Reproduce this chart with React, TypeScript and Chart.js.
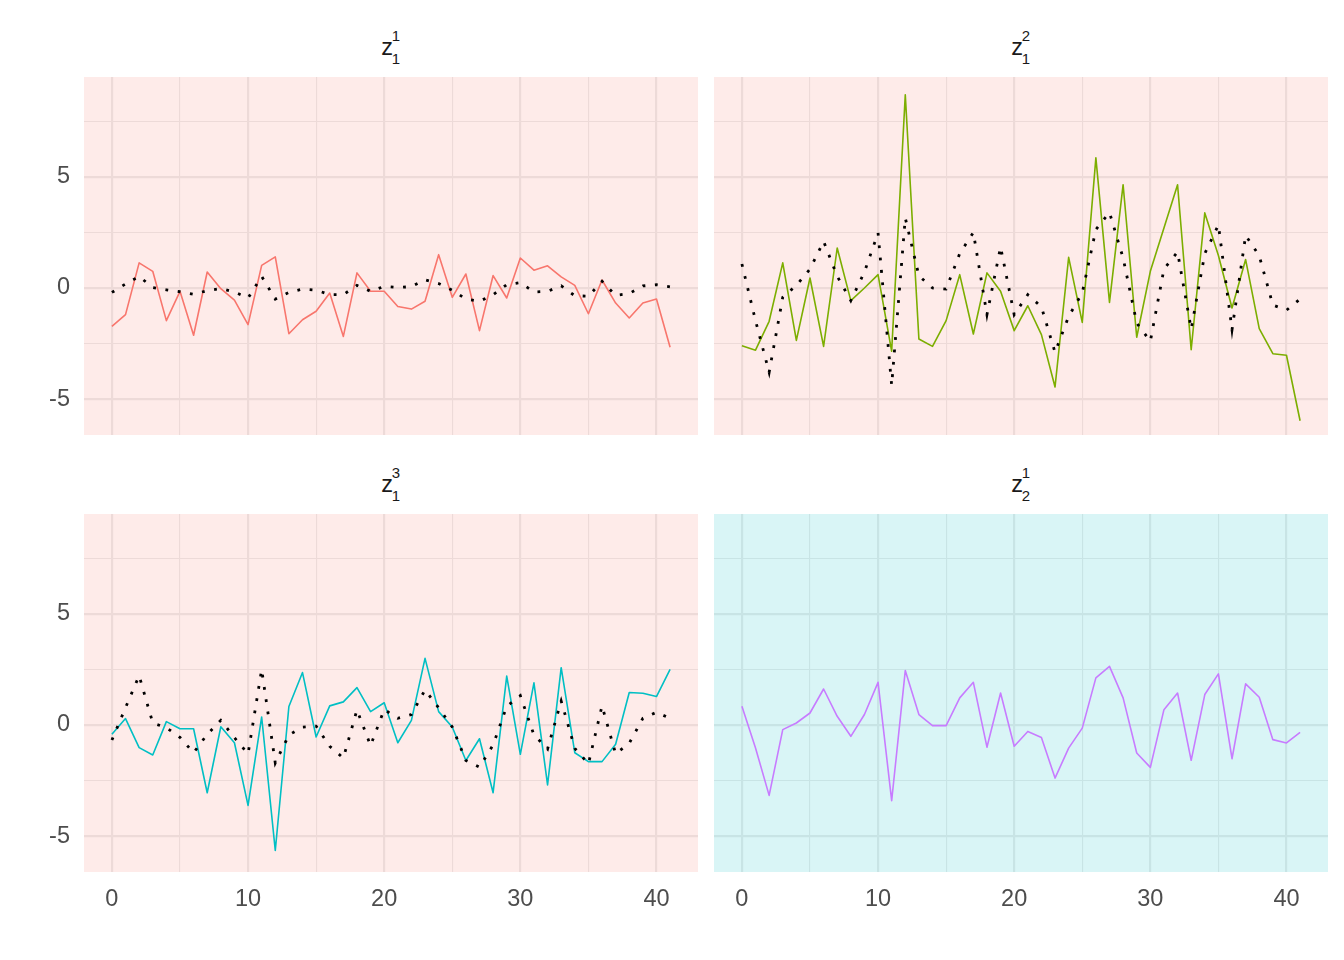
import React, { useEffect, useRef } from "react";
import { Chart, registerables } from "chart.js";

Chart.register(...registerables);

// ---- data ----
const steps = [0, 1, 2, 3, 4, 5, 6, 7, 8, 9, 10, 11, 12, 13, 14, 15, 16, 17, 18, 19, 20,
  21, 22, 23, 24, 25, 26, 27, 28, 29, 30, 31, 32, 33, 34, 35, 36, 37, 38, 39, 40, 41];

const z11Series = [-1.73, -1.2, 1.13, 0.75, -1.47, -0.15, -2.13, 0.72, -0.03, -0.55, -1.65, 1.02, 1.4, -2.06,
  -1.43, -1.05, -0.23, -2.18, 0.68, -0.15, -0.15, -0.83, -0.95, -0.6, 1.5, -0.42, 0.63, -1.92, 0.56, -0.45,
  1.35, 0.8, 1.0, 0.5, 0.12, -1.16, 0.36, -0.68, -1.35, -0.68, -0.5, -2.67];
const z11Reference = [-0.2, 0.18, 0.52, 0.02, -0.08, -0.17, -0.28, -0.12, -0.02, -0.18, -0.45, 0.52, -0.5, -0.2,
  -0.05, -0.1, -0.3, -0.3, 0.12, -0.15, 0.07, 0.02, 0.06, 0.37, 0.2, -0.1, -0.5, -0.6, -0.3, 0.15, 0.24, -0.18,
  -0.15, 0.1, -0.35, -0.37, 0.3, -0.33, -0.25, 0.09, 0.15, 0.05];

const z12Series = [-2.6, -2.8, -1.5, 1.13, -2.36, 0.45, -2.63, 1.8, -0.57, 0.0, 0.6, -2.85, 8.7, -2.3, -2.63,
  -1.47, 0.6, -2.07, 0.68, -0.15, -1.92, -0.8, -2.1, -4.46, 1.38, -1.55, 5.86, -0.65, 4.65, -2.22, 0.75, 2.7,
  4.65, -2.78, 3.38, 1.46, -0.9, 1.28, -1.83, -2.96, -3.03, -5.98];
const z12Reference = [1.08, -1.47, -3.8, -0.42, 0.12, 0.85, 2.1, 0.53, -0.57, 0.72, 2.48, -4.38, 3.15, 0.55,
  0.0, -0.05, 1.55, 2.5, -1.2, 1.85, -1.2, -0.3, -0.85, -2.9, -1.28, -0.22, 2.63, 3.4, 1.35, -1.58, -2.4, 0.85,
  1.62, -1.85, 1.55, 2.84, -1.88, 2.37, 1.45, -0.77, -1.0, -0.5];

const z13Series = [-0.42, 0.29, -1.02, -1.35, 0.15, -0.17, -0.17, -3.05, -0.08, -0.8, -3.62, 0.36, -5.65, 0.83,
  2.36, -0.54, 0.86, 1.04, 1.68, 0.6, 1.0, -0.8, 0.21, 3.0, 0.6, -0.09, -1.6, -0.62, -3.05, 2.2, -1.32, 1.9,
  -2.7, 2.58, -1.25, -1.65, -1.65, -0.87, 1.46, 1.43, 1.28, 2.5];
const z13Reference = [-0.68, 0.78, 2.22, 0.09, -0.12, -0.56, -1.25, -0.42, 0.21, -0.57, -1.3, 2.5, -1.71, -0.45,
  -0.1, -0.05, -0.96, -1.49, 0.68, -0.93, 0.7, 0.3, 0.47, 1.58, 0.77, -0.09, -1.6, -1.9, -0.9, 0.84, 1.32, -0.45,
  -1.08, 1.08, -1.05, -1.75, 0.86, -1.3, -0.82, 0.3, 0.57, 0.3];

const z21Series = [0.84, -1.04, -3.17, -0.21, 0.09, 0.54, 1.62, 0.39, -0.51, 0.47, 1.92, -3.41, 2.45, 0.47,
  -0.03, -0.03, 1.22, 1.92, -1.0, 1.44, -0.96, -0.29, -0.56, -2.39, -1.04, -0.14, 2.12, 2.64, 1.22, -1.26,
  -1.91, 0.69, 1.44, -1.59, 1.37, 2.3, -1.52, 1.85, 1.25, -0.66, -0.81, -0.33];

const xGridValues = [0, 5, 10, 15, 20, 25, 30, 35, 40];
const xTickLabels = [0, 10, 20, 30, 40];
const yGridValues = [-5, -2.5, 0, 2.5, 5, 7.5];
const yTickLabels = [-5, 0, 5];

// ---- styling ----
const FONT = '"Liberation Sans", Arial, Helvetica, sans-serif';
const X_MIN = -2.05;
const X_MAX = 43.05;
const Y_MIN = -6.62;
const Y_MAX = 9.5;
const Y_AXIS_W = 84;
const X_AXIS_H = 88;
const PANEL_W = 614;
const PANEL_H = 358;

const panelFill = {
  id: "panelFill",
  beforeDatasetsDraw(chart: any, _args: any, opts: any) {
    const { ctx, chartArea: a } = chart;
    ctx.save();
    ctx.fillStyle = opts.color;
    ctx.fillRect(a.left, a.top, a.right - a.left, a.bottom - a.top);
    ctx.restore();
  },
};

type PanelProps = {
  left: number;
  top: number;
  showX: boolean;
  showY: boolean;
  fill: string;
  color: string;
  series: number[];
  reference?: number[];
};

function Panel(p: PanelProps) {
  const ref = useRef<HTMLCanvasElement>(null);
  const w = PANEL_W + (p.showY ? Y_AXIS_W : 0);
  const h = PANEL_H + (p.showX ? X_AXIS_H : 0);

  useEffect(() => {
    const canvas = ref.current;
    if (!canvas) return;
    const toPts = (arr: number[]) => steps.map((x, i) => ({ x, y: arr[i] }));
    const datasets: any[] = [];
    if (p.reference) {
      datasets.push({
        data: toPts(p.reference),
        borderColor: "#000000",
        borderWidth: 2.8,
        borderDash: [2.8, 9.6],
        borderCapStyle: "butt",
        pointRadius: 0,
        tension: 0,
        fill: false,
      });
    }
    datasets.push({
      data: toPts(p.series),
      borderColor: p.color,
      borderWidth: 1.6,
      borderJoinStyle: "round",
      pointRadius: 0,
      tension: 0,
      fill: false,
    });

    const gridOpts = (majors: number[]) => ({
      color: "#EBEBEB",
      lineWidth: (ctx: any) => (majors.includes(ctx.tick?.value) ? 2.2 : 1.1),
      drawTicks: false,
    });

    const chart = new Chart(canvas, {
      type: "line",
      data: { datasets },
      plugins: [panelFill as any],
      options: {
        animation: false,
        responsive: false,
        maintainAspectRatio: false,
        events: [],
        layout: { padding: 0 },
        plugins: {
          legend: { display: false },
          tooltip: { enabled: false },
          panelFill: { color: p.fill },
        } as any,
        scales: {
          x: {
            type: "linear",
            min: X_MIN,
            max: X_MAX,
            border: { display: false },
            grid: gridOpts(xTickLabels) as any,
            afterBuildTicks: (s: any) => {
              s.ticks = xGridValues.map((v) => ({ value: v }));
            },
            afterFit: (s: any) => {
              s.height = p.showX ? X_AXIS_H : 0;
              s.paddingLeft = 0;
              s.paddingRight = 0;
              s.paddingTop = 0;
              s.paddingBottom = 0;
            },
            ticks: {
              display: p.showX,
              autoSkip: false,
              maxRotation: 0,
              padding: 13,
              color: "#4D4D4D",
              font: { family: FONT, size: 23.5 },
              callback: (v: any) => (xTickLabels.includes(Number(v)) ? String(v) : ""),
            },
          },
          y: {
            type: "linear",
            min: Y_MIN,
            max: Y_MAX,
            border: { display: false },
            grid: gridOpts(yTickLabels) as any,
            afterBuildTicks: (s: any) => {
              s.ticks = yGridValues.map((v) => ({ value: v }));
            },
            afterFit: (s: any) => {
              s.width = p.showY ? Y_AXIS_W : 0;
              s.paddingLeft = 0;
              s.paddingRight = 0;
              s.paddingTop = 0;
              s.paddingBottom = 0;
            },
            ticks: {
              display: p.showY,
              autoSkip: false,
              padding: 14,
              color: "#4D4D4D",
              font: { family: FONT, size: 23.5 },
              callback: (v: any) => (yTickLabels.includes(Number(v)) ? String(v) : ""),
            },
          },
        },
      } as any,
    });
    return () => chart.destroy();
  }, []);

  return (
    <canvas
      ref={ref}
      width={w}
      height={h}
      style={{
        position: "absolute",
        left: p.left - (p.showY ? Y_AXIS_W : 0),
        top: p.top,
        width: w,
        height: h,
      }}
    />
  );
}

function StripTitle({ left, top, sup, sub }: { left: number; top: number; sup: string; sub: string }) {
  const cx = left + PANEL_W / 2;
  const base: React.CSSProperties = {
    position: "absolute",
    fontFamily: FONT,
    color: "#1A1A1A",
    whiteSpace: "nowrap",
  };
  return (
    <>
      <span style={{ ...base, left: cx - 9.8, top: top - 77 + 36.1, fontSize: 23.5, lineHeight: "23.5px" }}>z</span>
      <span style={{ ...base, left: cx + 0.7, top: top - 77 + 28.3, fontSize: 15, lineHeight: "15px" }}>{sup}</span>
      <span style={{ ...base, left: cx + 0.7, top: top - 77 + 50.6, fontSize: 15, lineHeight: "15px" }}>{sub}</span>
    </>
  );
}

const PINK = "rgba(248,118,109,0.15)";
const CYAN = "rgba(0,191,196,0.15)";

export default function App() {
  return (
    <div
      style={{
        position: "fixed",
        left: 0,
        top: 0,
        width: 1344,
        height: 960,
        background: "#FFFFFF",
        overflow: "hidden",
      }}
    >
      <StripTitle left={84} top={77} sup="1" sub="1" />
      <StripTitle left={714} top={77} sup="2" sub="1" />
      <StripTitle left={84} top={514} sup="3" sub="1" />
      <StripTitle left={714} top={514} sup="1" sub="2" />
      <Panel left={84} top={77} showX={false} showY={true} fill={PINK} color="#F8766D" series={z11Series} reference={z11Reference} />
      <Panel left={714} top={77} showX={false} showY={false} fill={PINK} color="#7CAE00" series={z12Series} reference={z12Reference} />
      <Panel left={84} top={514} showX={true} showY={true} fill={PINK} color="#00BFC4" series={z13Series} reference={z13Reference} />
      <Panel left={714} top={514} showX={true} showY={false} fill={CYAN} color="#C77CFF" series={z21Series} />
    </div>
  );
}
